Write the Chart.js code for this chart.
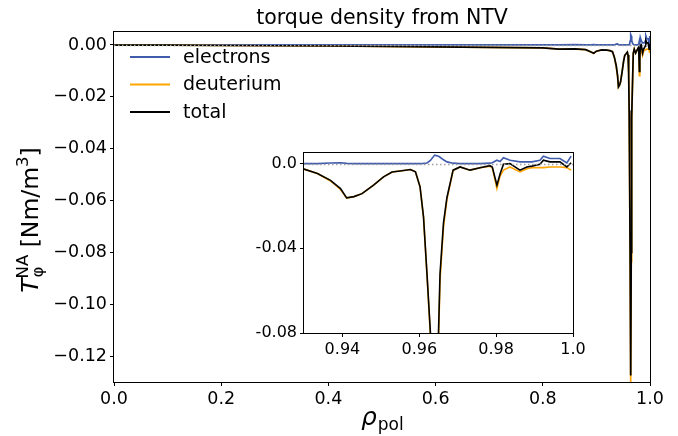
<!DOCTYPE html>
<html>
<head>
<meta charset="utf-8">
<script src="https://cdn.jsdelivr.net/npm/chart.js@4.4.0/dist/chart.umd.min.js"></script>
<style>
  html, body { margin: 0; padding: 0; background: #fff; }
  #wrap { position: relative; width: 678px; height: 436px; }
  #mainChart { position: absolute; left: 0; top: 0; }
  #insetChart { position: absolute; left: 240px; top: 140px; }
</style>
</head>
<body>
<div id="wrap">
  <canvas id="mainChart" width="678" height="436"></canvas>
  <canvas id="insetChart" width="360" height="220"></canvas>
</div>
<script>
// normalised poloidal radius
const rho = [
  0.000, 0.100, 0.200, 0.300, 0.400, 0.500, 0.600, 0.700, 0.800, 0.830,
  0.860, 0.880, 0.890, 0.895, 0.900, 0.910, 0.920, 0.925, 0.930, 0.9335,
  0.9369, 0.9395, 0.9411, 0.9430, 0.9451, 0.9481, 0.9507, 0.9529, 0.9550, 0.9577,
  0.9590, 0.9602, 0.9611, 0.9620, 0.9629, 0.9640, 0.9650, 0.9654, 0.9663, 0.9672,
  0.9688, 0.9706, 0.9732, 0.9758, 0.9784, 0.9790, 0.9802, 0.9810, 0.9819, 0.9836,
  0.9862, 0.9880, 0.9893, 0.9914, 0.9923, 0.9940, 0.9966, 0.9984, 0.9995
];
// NTV torque density per species [Nm/m^3]
const electrons = [
  0.0000, 0.0000, 0.0000, 0.0000, 0.0000, 0.0000, 0.0000, 0.0000, 0.0000, 0.0000,
  0.0001, 0.0000, 0.0000, 0.0001, 0.0000, 0.0000, 0.0000, 0.0000, 0.0000, 0.0000,
  0.0003, 0.0004, 0.0001, 0.0000, 0.0000, 0.0000, 0.0000, 0.0000, 0.0000, 0.0000,
  0.0000, 0.0000, 0.0001, 0.0003, 0.0015, 0.0040, 0.0035, 0.0030, 0.0018, 0.0008,
  0.0002, 0.0000, 0.0000, 0.0000, 0.0002, 0.0004, 0.0016, 0.0010, 0.0028, 0.0016,
  0.0008, 0.0008, 0.0008, 0.0016, 0.0035, 0.0024, 0.0024, 0.0003, 0.0035
];
const deuterium = [
  -0.0001, -0.0001, -0.0002, -0.0003, -0.0004, -0.0006, -0.0007, -0.0009, -0.0011, -0.0016,
  -0.0016, -0.0018, -0.0027, -0.0033, -0.0024, -0.0019, -0.0020, -0.0022, -0.0026, -0.0047,
  -0.0082, -0.0122, -0.0163, -0.0156, -0.0142, -0.0102, -0.0063, -0.0040, -0.0035, -0.0028,
  -0.0039, -0.0110, -0.0253, -0.0523, -0.0815, -0.1315, -0.0835, -0.0550, -0.0298, -0.0168,
  -0.0033, -0.0016, -0.0031, -0.0020, -0.0012, -0.0020, -0.0118, -0.0060, -0.0031, -0.0016,
  -0.0039, -0.0024, -0.0020, -0.0019, -0.0019, -0.0016, -0.0016, -0.0019, -0.0031
];
const total = [
  -0.0001, -0.0001, -0.0002, -0.0003, -0.0004, -0.0006, -0.0007, -0.0009, -0.0011, -0.0016,
  -0.0015, -0.0018, -0.0027, -0.0032, -0.0024, -0.0019, -0.0020, -0.0022, -0.0026, -0.0047,
  -0.0079, -0.0118, -0.0162, -0.0156, -0.0142, -0.0102, -0.0063, -0.0040, -0.0035, -0.0028,
  -0.0039, -0.0110, -0.0252, -0.0520, -0.0800, -0.1275, -0.0800, -0.0520, -0.0280, -0.0160,
  -0.0031, -0.0016, -0.0031, -0.0020, -0.0010, -0.0016, -0.0102, -0.0050, -0.0003, 0.0000,
  -0.0031, -0.0016, -0.0012, -0.0003, 0.0016, 0.0008, 0.0008, -0.0016, 0.0004
];

const seriesNames = ['electrons', 'deuterium', 'total'];
const seriesColors = ['#3f5bab', '#ffa500', '#000000'];

const mainXTicks = [0.0, 0.2, 0.4, 0.6, 0.8, 1.0];
const mainYTicks = [0.00, -0.02, -0.04, -0.06, -0.08, -0.10, -0.12];
const insetXTicks = [0.94, 0.96, 0.98, 1.0];
const insetXLabels = ['0.94', '0.96', '0.98', '1.0'];
const insetYTicks = [0.0, -0.04, -0.08];
const insetYLabels = ['0.0', '-0.04', '-0.08'];

const FONT = '"DejaVu Sans", sans-serif';

function points(ys) {
  return rho.map((x, i) => ({ x: x, y: ys[i] }));
}

function makeDatasets(lw) {
  const all = [electrons, deuterium, total];
  return all.map((ys, i) => ({
    label: seriesNames[i],
    data: points(ys),
    borderColor: seriesColors[i],
    borderWidth: lw,
    pointRadius: 0,
    tension: 0,
    fill: false,
    clip: 0,
    order: 2 - i   // total drawn last
  }));
}

function setTicks(values) {
  return function(scale) {
    scale.ticks = values.map(v => ({ value: v }));
  };
}

// dotted zero line + full box around the axes
function zeroAndFrame(chart) {
  const ctx = chart.ctx, a = chart.chartArea;
  const y0 = Math.round(chart.scales.y.getPixelForValue(0)) + 0.5;
  ctx.save();
  ctx.beginPath();
  ctx.rect(a.left, a.top, a.right - a.left, a.bottom - a.top);
  ctx.clip();
  ctx.strokeStyle = '#a0a0a0';
  ctx.lineWidth = 1.5;
  ctx.setLineDash([1.5, 2.5]);
  ctx.beginPath();
  ctx.moveTo(a.left, y0);
  ctx.lineTo(a.right, y0);
  ctx.stroke();
  ctx.restore();

  ctx.save();
  ctx.strokeStyle = '#000';
  ctx.lineWidth = 1;
  ctx.strokeRect(Math.round(a.left) - 0.5, Math.round(a.top) - 0.5,
                 Math.round(a.right - a.left) + 1, Math.round(a.bottom - a.top) + 1);
  ctx.restore();
}

const mainDecor = {
  id: 'mainDecor',
  afterDatasetsDraw(chart) {
    zeroAndFrame(chart);
  },
  afterDraw(chart) {
    const ctx = chart.ctx, a = chart.chartArea;
    const cx = (a.left + a.right) / 2;
    ctx.save();
    ctx.fillStyle = '#000';

    // title
    ctx.font = '20.5px ' + FONT;
    ctx.textAlign = 'center';
    ctx.textBaseline = 'alphabetic';
    ctx.fillText('torque density from NTV', cx, 24);

    // x label: rho_pol
    let big = '24.5px ' + FONT, small = '17px ' + FONT;
    ctx.textAlign = 'left';
    ctx.font = 'italic ' + big;
    const wRho = ctx.measureText('\u03c1').width;
    ctx.font = small;
    const wPol = ctx.measureText('pol').width;
    let x0 = cx - (wRho + wPol) / 2;
    ctx.font = 'italic ' + big;
    ctx.fillText('\u03c1', x0, 425);
    ctx.font = small;
    ctx.fillText('pol', x0 + wRho + 1, 430);

    // y label: T_phi^NA [Nm/m^3], rotated
    big = '23.5px ' + FONT;
    small = '16.5px ' + FONT;
    ctx.translate(38, (a.top + a.bottom) / 2 + 13);
    ctx.rotate(-Math.PI / 2);
    ctx.font = 'italic ' + big;
    const wT = ctx.measureText('T').width;
    ctx.font = small;
    const wSub = Math.max(ctx.measureText('\u03c6').width, ctx.measureText('NA').width);
    ctx.font = big;
    const wUnit = ctx.measureText(' [Nm/m').width;
    ctx.font = small;
    const w3 = ctx.measureText('3').width;
    ctx.font = big;
    const wBr = ctx.measureText(']').width;
    let px = -(wT + wSub + wUnit + w3 + wBr) / 2;
    ctx.font = 'italic ' + big;
    ctx.fillText('T', px, 0);
    px += wT;
    ctx.font = small;
    ctx.fillText('NA', px, -10);
    ctx.fillText('\u03c6', px + 1, 5);
    px += wSub;
    ctx.font = big;
    ctx.fillText(' [Nm/m', px, 0);
    px += wUnit;
    ctx.font = small;
    ctx.fillText('3', px, -10);
    px += w3;
    ctx.font = big;
    ctx.fillText(']', px, 0);
    ctx.restore();

    // legend, upper left
    ctx.save();
    ctx.font = '19px ' + FONT;
    ctx.textBaseline = 'middle';
    ctx.fillStyle = '#000';
    const rows = [58, 85.5, 113];
    seriesNames.forEach((name, i) => {
      ctx.strokeStyle = seriesColors[i];
      ctx.lineWidth = 2;
      ctx.beginPath();
      ctx.moveTo(130, rows[i] - 1);
      ctx.lineTo(170, rows[i] - 1);
      ctx.stroke();
      ctx.fillText(name, 183, rows[i]);
    });
    ctx.restore();
  }
};

const insetDecor = {
  id: 'insetDecor',
  beforeDatasetsDraw(chart) {
    const ctx = chart.ctx, a = chart.chartArea;
    ctx.save();
    ctx.fillStyle = '#fff';
    ctx.fillRect(a.left, a.top, a.right - a.left, a.bottom - a.top);
    ctx.restore();
  },
  afterDatasetsDraw(chart) {
    zeroAndFrame(chart);
  }
};

function axisOpts(min, max, ticks, fontSize, formatter, fitSize, isX) {
  return {
    type: 'linear',
    min: min,
    max: max,
    afterBuildTicks: setTicks(ticks),
    afterFit: function(scale) {
      if (isX) scale.height = fitSize; else scale.width = fitSize;
    },
    border: { display: false },
    grid: {
      drawOnChartArea: false,
      drawTicks: true,
      tickLength: 4,
      tickWidth: 1,
      tickColor: '#000',
      color: '#000'
    },
    ticks: {
      autoSkip: false,
      maxRotation: 0,
      padding: 3,
      color: '#000',
      font: { family: FONT, size: fontSize },
      callback: formatter
    }
  };
}

const mainChart = new Chart(document.getElementById('mainChart'), {
  type: 'line',
  data: { datasets: makeDatasets(1.7) },
  options: {
    responsive: false,
    animation: false,
    devicePixelRatio: 1,
    layout: { padding: { left: 0, top: 32, right: 28, bottom: 0 } },
    plugins: { legend: { display: false }, tooltip: { enabled: false } },
    scales: {
      x: axisOpts(0, 1, mainXTicks, 17.5, v => v.toFixed(1), 54, true),
      y: axisOpts(-0.13, 0.005, mainYTicks, 17.5,
        v => (Math.abs(v) < 1e-9 ? '0.00' : '\u2212' + Math.abs(v).toFixed(2)), 114, false)
    }
  },
  plugins: [mainDecor]
});

const insetChart = new Chart(document.getElementById('insetChart'), {
  type: 'line',
  data: { datasets: makeDatasets(1.6) },
  options: {
    responsive: false,
    animation: false,
    devicePixelRatio: 1,
    layout: { padding: { left: 0, top: 13, right: 27, bottom: 0 } },
    plugins: { legend: { display: false }, tooltip: { enabled: false } },
    scales: {
      x: axisOpts(0.93, 1.0, insetXTicks, 16,
        (v) => insetXLabels[insetXTicks.findIndex(t => Math.abs(t - v) < 1e-9)], 27, true),
      y: axisOpts(-0.08, 0.005, insetYTicks, 16,
        (v) => insetYLabels[insetYTicks.findIndex(t => Math.abs(t - v) < 1e-9)], 64, false)
    }
  },
  plugins: [insetDecor]
});
</script>
</body>
</html>
